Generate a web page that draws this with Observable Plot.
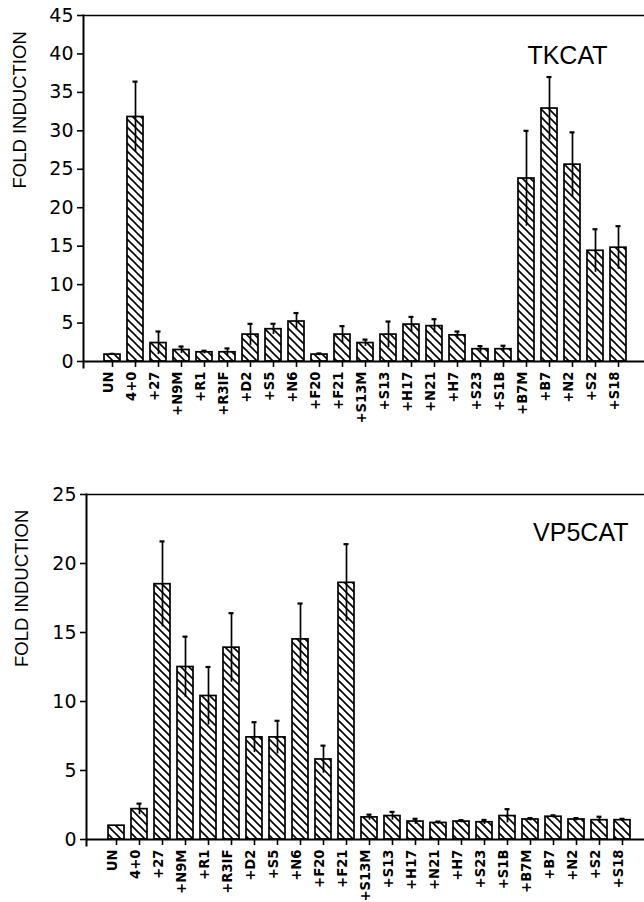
<!DOCTYPE html>
<html>
<head>
<meta charset="utf-8">
<script src="https://cdn.jsdelivr.net/npm/d3@7"></script>
<script src="https://cdn.jsdelivr.net/npm/@observablehq/plot@0.6"></script>
<style>
  html, body { margin: 0; padding: 0; background: #fff; }
  #wrap { position: relative; width: 644px; height: 902px; overflow: hidden; }
  #top, #bottom { position: absolute; left: 0; }
  #top { top: 0; }
  #bottom { top: 470px; }
  svg { display: block; }
</style>
</head>
<body>
<div id="wrap"><div id="top"></div><div id="bottom"></div></div>
<script>
const categories = ["UN","4+0","+27","+N9M","+R1","+R3IF","+D2","+S5","+N6","+F20","+F21","+S13M","+S13","+H17","+N21","+H7","+S23","+S1B","+B7M","+B7","+N2","+S2","+S18"];

const tkValues = [0.9, 31.8, 2.4, 1.5, 1.2, 1.2, 3.5, 4.2, 5.2, 0.9, 3.5, 2.4, 3.5, 4.8, 4.6, 3.4, 1.6, 1.6, 23.8, 32.9, 25.6, 14.4, 14.8];
const tkErrors = [0.1, 4.6, 1.5, 0.45, 0.2, 0.5, 1.4, 0.7, 1.1, 0.15, 1.1, 0.45, 1.7, 1.0, 0.9, 0.5, 0.4, 0.45, 6.2, 4.1, 4.2, 2.8, 2.8];

const vpValues = [1.0, 2.2, 18.5, 12.5, 10.4, 13.9, 7.4, 7.4, 14.5, 5.8, 18.6, 1.6, 1.7, 1.3, 1.2, 1.3, 1.25, 1.7, 1.45, 1.65, 1.45, 1.4, 1.4];
const vpErrors = [0, 0.4, 3.1, 2.2, 2.1, 2.5, 1.1, 1.2, 2.6, 1.0, 2.8, 0.2, 0.3, 0.2, 0.1, 0.1, 0.17, 0.5, 0.1, 0.1, 0.1, 0.25, 0.1];

const tkTicks = [0, 5, 10, 15, 20, 25, 30, 35, 40, 45];
const vpTicks = [0, 5, 10, 15, 20, 25];

const yLabel = "FOLD INDUCTION";

function makeChart(cfg) {
  const data = categories.map((c, i) => ({name: c, v: cfg.values[i], e: cfg.errors[i]}));
  const errData = data.filter(d => d.e > 0);
  const svg = Plot.plot({
    width: 644,
    height: cfg.height,
    marginTop: cfg.marginTop,
    marginBottom: cfg.marginBottom,
    marginLeft: cfg.left,
    marginRight: 0,
    style: {fontFamily: "Liberation Sans, Arial, sans-serif", color: "black", background: "white"},
    x: {domain: categories, range: cfg.range, paddingInner: 0.3, paddingOuter: 0.717},
    y: {domain: [0, cfg.yMax]},
    marks: [
      Plot.barY(data, {x: "name", y: "v", fill: `url(#${cfg.id})`, stroke: "black", strokeWidth: 1.7}),
      Plot.ruleX(errData, {x: "name", y1: d => d.v - d.e, y2: d => d.v + d.e, stroke: "black", strokeWidth: 1.7}),
      Plot.tickY(errData, {x: "name", y: d => d.v + d.e, insetLeft: 5.5, insetRight: 5.5, stroke: "black", strokeWidth: 2.2}),
      Plot.ruleY([0], {stroke: "black", strokeWidth: 2}),
      Plot.ruleY([cfg.yMax], {stroke: "black", strokeWidth: 1.6}),
      Plot.frame({anchor: "left", stroke: "black", strokeWidth: 2, insetBottom: -6}),
      Plot.axisY({ticks: cfg.ticks, tickSize: 6, tickPadding: 4, fontSize: 19, fontFamily: "DejaVu Sans", strokeWidth: 1.6, label: null}),
      Plot.axisX({tickSize: 6, tickFormat: () => "", strokeWidth: 1.6, label: null}),
      Plot.text(categories, {x: d => d, text: d => d, frameAnchor: "bottom", rotate: -90, textAnchor: "end", dy: 10, fontSize: 13.2, fontWeight: "bold", fontFamily: "DejaVu Sans"}),
      Plot.text([yLabel], {text: d => d, frameAnchor: "left", rotate: -90, dx: cfg.labelDx, fontSize: 18.5}),
      Plot.text([cfg.title], {text: d => d, frameAnchor: "top-right", textAnchor: "end", dx: cfg.titleDx, dy: cfg.titleDy, fontSize: 25})
    ]
  });
  const defs = d3.select(svg).insert("defs", ":first-child");
  const pat = defs.append("pattern").attr("id", cfg.id).attr("patternUnits", "userSpaceOnUse").attr("width", 8).attr("height", 8);
  pat.append("rect").attr("width", 8).attr("height", 8).attr("fill", "white");
  pat.append("path").attr("d", "M0,0L8,8M-2,6L2,10M6,-2L10,2").attr("stroke", "black").attr("stroke-width", 1.6).attr("fill", "none");
  return svg;
}

document.getElementById("top").appendChild(makeChart({
  values: tkValues, errors: tkErrors, yMax: 45, ticks: tkTicks, id: "hatchTop",
  height: 470, marginTop: 15, marginBottom: 109, left: 83, range: [83, 647.3],
  labelDx: -63, title: "TKCAT", titleDx: -37, titleDy: 31
}));

document.getElementById("bottom").appendChild(makeChart({
  values: vpValues, errors: vpErrors, yMax: 25, ticks: vpTicks, id: "hatchBottom",
  height: 432, marginTop: 24, marginBottom: 63, left: 86, range: [86, 651.7],
  labelDx: -64, title: "VP5CAT", titleDx: -16, titleDy: 29
}));
</script>
</body>
</html>
